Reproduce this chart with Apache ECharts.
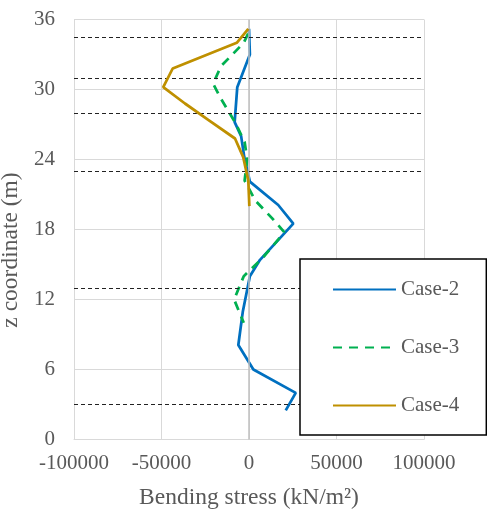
<!DOCTYPE html>
<html>
<head>
<meta charset="utf-8">
<script src="https://cdn.jsdelivr.net/npm/echarts@6/dist/echarts.min.js"></script>
<style>html,body{margin:0;padding:0;background:#fff;}#c{width:487px;height:509px;}</style>
</head>
<body>
<div id="c"></div>
<script>
const seriesNames = ['Case-2', 'Case-3', 'Case-4'];
const case2Z = [35.2, 33.0, 30.2, 27.2, 26.0, 24.2, 22.1, 20.1, 18.5, 15.4, 14.0, 11.0, 8.1, 6.0, 4.0, 2.5];
const case2X = [0, 500, -6700, -8200, -4500, -2700, 500, 16700, 25300, 6300, 500, -3500, -6100, 2500, 26700, 21000];
const case3Z = [34.8, 34.0, 32.0, 30.5, 29.2, 27.2, 25.5, 24.0, 22.2, 20.5, 19.0, 17.8, 17.2, 15.6, 14.0, 12.0, 10.0];
const case3X = [-500, -3000, -16000, -20500, -16000, -8000, -2500, -1000, -2500, 3500, 13000, 20000, 17000, 8000, -3000, -8500, -3000];
const case4Z = [35.2, 34.0, 31.8, 30.2, 28.8, 27.4, 25.8, 24.2, 22.2, 20.0];
const case4X = [-400, -7000, -43600, -49000, -36600, -23300, -8000, -3300, -400, 200];
const boundaryZ = [34.5, 31, 28, 23, 13, 3];
const xTicks = { min: -100000, max: 100000, interval: 50000 };
const yTicks = { min: 0, max: 36, interval: 6 };

const font = '"Liberation Serif", "DejaVu Serif", serif';
const grey = '#595959';
const pair = (xs, zs) => xs.map((x, i) => [x, zs[i]]);

const chart = echarts.init(document.getElementById('c'));
chart.setOption({
  animation: false,
  backgroundColor: '#fff',
  textStyle: { fontFamily: font, color: grey },
  grid: { left: 74, right: 63, top: 19.5, bottom: 69.5, containLabel: false, outerBoundsMode: 'none' },
  xAxis: {
    type: 'value', min: xTicks.min, max: xTicks.max, interval: xTicks.interval,
    name: 'Bending stress (kN/m²)', nameLocation: 'middle', nameGap: 46,
    nameTextStyle: { fontFamily: font, fontSize: 23.5, color: grey },
    axisLine: { show: true, lineStyle: { color: '#d9d9d9', width: 1 } },
    axisTick: { show: false },
    axisLabel: { fontFamily: font, fontSize: 21, color: grey, margin: 13, formatter: v => String(v) },
    splitLine: { show: true, lineStyle: { color: '#d9d9d9', width: 1 } }
  },
  yAxis: {
    type: 'value', min: yTicks.min, max: yTicks.max, interval: yTicks.interval,
    name: 'z coordinate (m)', nameLocation: 'middle', nameGap: 41, nameRotate: 90,
    nameTextStyle: { fontFamily: font, fontSize: 23.5, color: grey, padding: [0, 41, 0, 0] },
    axisLine: { show: false },
    axisTick: { show: false },
    axisLabel: { fontFamily: font, fontSize: 21, color: grey, margin: 19, formatter: v => String(v) },
    splitLine: { show: true, lineStyle: { color: '#d9d9d9', width: 1 } }
  },
  legend: {
    data: seriesNames,
    orient: 'vertical',
    left: 300, top: 259,
    padding: [20, 27, 19, 32],
    itemWidth: 63, itemHeight: 14, itemGap: 37,
    borderColor: '#000', borderWidth: 1.5,
    backgroundColor: '#fff',
    itemStyle: { opacity: 0 },
    textStyle: { fontFamily: font, fontSize: 21, color: grey },
    z: 10
  },
  series: [
    {
      name: 'refs', type: 'line', data: [], silent: true, z: 1,
      markLine: {
        silent: true, symbol: ['none', 'none'], label: { show: false },
        animation: false,
        data: [
          { xAxis: 0, lineStyle: { type: 'solid', color: '#bfbfbf', width: 1.5 } }
        ].concat(boundaryZ.map(z => ({ yAxis: z, lineStyle: { type: [4, 3], color: '#222', width: 1 } })))
      }
    },
    {
      name: seriesNames[0], type: 'line', data: pair(case2X, case2Z), symbol: 'none', z: 3,
      lineStyle: { color: '#0070C0', width: 2.75 }, itemStyle: { color: '#0070C0' }
    },
    {
      name: seriesNames[1], type: 'line', data: pair(case3X, case3Z), symbol: 'none', z: 4,
      lineStyle: { color: '#00B050', width: 2.75, type: [9, 7] }, itemStyle: { color: '#00B050' }
    },
    {
      name: seriesNames[2], type: 'line', data: pair(case4X, case4Z), symbol: 'none', z: 5,
      lineStyle: { color: '#BF9000', width: 2.75 }, itemStyle: { color: '#BF9000' }
    }
  ]
});
</script>
</body>
</html>
